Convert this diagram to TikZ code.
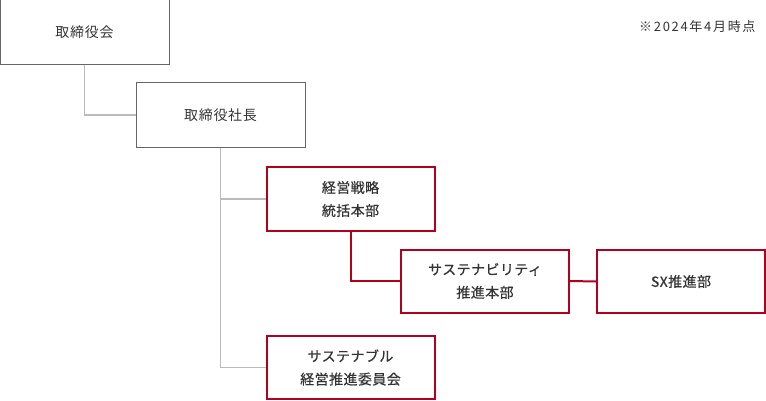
\documentclass[tikz,border=0pt]{standalone}
\usepackage{fontspec}
\newfontfamily\jp[LetterSpace=5]{Noto Sans CJK JP}
\newfontfamily\jpnote[LetterSpace=13]{Noto Sans CJK JP}
\newfontfamily\jpbf[FakeBold=0.6,LetterSpace=3]{Noto Sans CJK JP}
\definecolor{boxgray}{HTML}{666666}
\definecolor{linegray}{HTML}{BBBBBB}
\definecolor{txt}{HTML}{333333}
\definecolor{corp}{HTML}{B2001E}
\begin{document}
\begin{tikzpicture}[x=1pt,y=-1pt,
		gbox/.style={draw=boxgray,line width=1pt,minimum width=169,minimum height=65,inner sep=0,font=\jp\fontsize{14}{22}\selectfont,text=txt},
		rbox/.style={draw=corp,line width=2pt,minimum width=168,minimum height=63,inner sep=0,align=center,font=\jpbf\fontsize{14}{23}\selectfont,text=txt},
		gline/.style={draw=linegray,line width=1.5pt},
		rline/.style={draw=corp,line width=2pt}]
		\useasboundingbox (0,0) rectangle (766,401);
		\node[gbox] (board) at (84.5,32.5) {取締役会};
		\node[gbox] (pres) at (220.5,115) {取締役社長};
		\node[rbox] (strat) at (350.5,199) {経営戦略\\統括本部};
		\node[rbox] (sxhq) at (485,281) {サステナビリティ\\推進本部};
		\node[rbox] (sx) at (681,281.5) {SX推進部};
		\node[rbox] (sustc) at (350.5,367.5) {サステナブル\\経営推進委員会};
		\node[anchor=east,text=txt,font=\jpnote\fontsize{13}{15}\selectfont] (note) at (759,27) {※2024年4月時点};
		\draw[gline] (board.south) |- (pres.west);
		\foreach \n in {strat,sustc} \draw[gline] (pres.south) |- (\n.west);
		\draw[rline] (strat.south) |- (sxhq.west);
		\draw[rline] (sxhq.east) -- (sx.west);
	\end{tikzpicture}
\end{document}
